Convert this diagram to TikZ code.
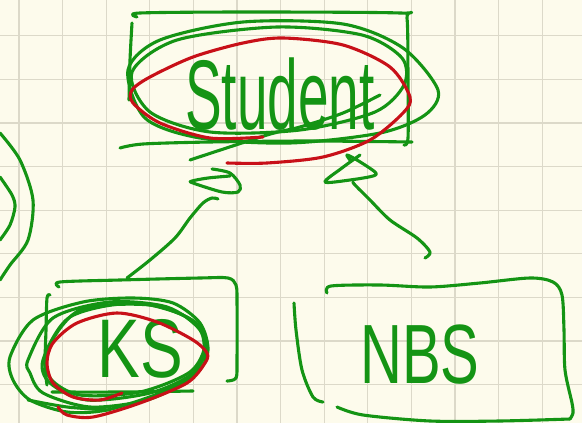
\documentclass[tikz,border=0pt]{standalone}
\usepackage{fontspec}
\newfontfamily\hand{Liberation Sans}
\definecolor{paper}{RGB}{253,251,236}
\definecolor{gridc}{RGB}{220,217,201}
\definecolor{ink}{RGB}{20,148,20}
\definecolor{redink}{RGB}{200,16,24}
\tikzset{
  pen/.style={draw=ink, line width=3.1pt, line cap=round, line join=round},
  redpen/.style={draw=redink, line width=3.1pt, line cap=round, line join=round},
  word/.style={text=ink, inner sep=0pt, anchor=base, font=\hand},
}
\begin{document}
\begin{tikzpicture}[x=1pt, y=-1pt]
% paper and grid
\fill[paper] (0,0) rectangle (582,423);
\useasboundingbox (0,0) rectangle (582,423);
\foreach \k in {0,...,12} \draw[gridc, line width=1.2pt] ({19+43.6*\k},0) -- ({19+43.6*\k},423);
\foreach \k in {0,...,8} \draw[gridc, line width=1.2pt] (0,{35.8+43.6*\k}) -- (582,{35.8+43.6*\k});

% ---- Student ----
\node[word] (stu) at (280,129) {\scalebox{1}[1.8]{\fontsize{55}{60}\selectfont Student}};
% box
\draw[pen] plot[smooth] coordinates {(137,17) (140,13) (250,12) (400,13) (407,18) (408,80) (408,138) (404,145)};
\draw[pen] plot[smooth] coordinates {(132,23) (130,60) (129,100)};
\draw[pen] plot[smooth] coordinates {(120,148) (143,144) (210,142) (310,141) (412,142)};
% circling
\draw[pen] plot[smooth cycle] coordinates {(128,70) (160,40) (243,22) (343,24) (403,48) (438,90) (425,115) (380,133) (290,143) (200,138) (145,118)};
\draw[pen] plot[smooth cycle] coordinates {(132,72) (177,40) (277,27) (362,35) (402,58) (404,85) (375,112) (300,130) (210,132) (150,112)};
\draw[pen] plot[smooth] coordinates {(190,160) (267,135) (300,127) (343,113) (380,95)};
\draw[redpen] plot[smooth] coordinates {(263,137) (210,138) (160,123) (133,103) (132,90) (150,77) (193,57) (243,43) (283,38) (343,45) (390,67) (410,97) (403,113) (370,140) (323,157) (267,163) (227,163)};

% ---- KS ----
\node[word] (ks) at (140,377) {\scalebox{1}[1.3]{\fontsize{64}{70}\selectfont KS}};
\draw[pen] plot[smooth] coordinates {(59,287) (60,282) (120,280) (200,278) (228,278) (236,285) (237,300) (237,360) (236,378) (227,381)};
\draw[pen] plot[smooth] coordinates {(50,295) (47,298) (46,330) (45,365) (47,385)};
\draw[pen] plot[smooth] coordinates {(52,392) (120,392) (193,391)};
\draw[pen] plot[smooth] coordinates {(28,400) (67,407) (110,410)};
\draw[pen] plot[smooth cycle] coordinates {(10,357) (33,320) (83,302) (133,298) (173,303) (200,323) (208,350) (197,373) (160,393) (107,410) (67,412) (30,400) (13,380)};
\draw[pen] plot[smooth cycle] coordinates {(28,360) (53,318) (110,302) (167,307) (200,330) (203,357) (187,380) (147,400) (90,407) (43,393) (30,373)};
\draw[pen] plot[smooth cycle] coordinates {(43,360) (70,317) (133,303) (187,317) (207,343) (193,373) (150,393) (87,400) (50,383)};
\draw[pen] plot[smooth cycle] coordinates {(47,350) (80,310) (150,305) (195,322) (205,345) (190,372) (140,392) (80,395) (50,378)};
\draw[redpen] plot[smooth] coordinates {(58,407) (67,415) (93,417) (140,403) (187,383) (205,363) (207,353) (193,340) (157,322) (117,313) (77,323) (53,343) (47,363) (53,383) (73,397) (100,400) (122,393)};

% ---- NBS ----
\node[word] (nbs) at (420,383) {\scalebox{1}[1.45]{\fontsize{58}{64}\selectfont NBS}};
\draw[pen] plot[smooth] coordinates {(294,303) (296,330) (302,370) (313,397) (323,402)};
\draw[pen] plot[smooth] coordinates {(327,293) (331,286) (380,285) (430,287) (480,283) (530,278) (553,282) (562,295) (564,330) (565,370) (572,403) (573,413) (570,419)};
\draw[pen] plot[smooth] coordinates {(337,407) (363,415) (430,421) (500,421) (570,419)};

% ---- arrows ----
\coordinate (ksTop) at (127,278);
\coordinate (stuL) at (218,199);
\coordinate (nbsTop) at (425,258);
\coordinate (stuR) at (353,182);
\draw[pen] plot[smooth] coordinates {(ksTop) (150,260) (175,238) (190,218) (203,203) (212,198) (stuL)};
\draw[pen] plot[smooth] coordinates {(212,169) (230,173) (240,185) (238,192) (222,192) (193,183) (192,181) (208,178) (230,176)};
\draw[pen] plot[smooth] coordinates {(nbsTop) (430,252) (417,238) (390,220) (370,200) (355,185) (stuR)};
\draw[pen] plot[smooth] coordinates {(360,155) (342,168) (325,182) (350,180) (373,176) (375,172) (357,160) (347,155) (350,160)};

% ---- arcs at the left edge ----
\draw[pen] plot[smooth] coordinates {(0,133) (20,160) (33,200) (28,240) (10,265) (0,280)};
\draw[pen] plot[smooth] coordinates {(0,177) (12,195) (15,207) (10,225) (0,240)};
\end{tikzpicture}
\end{document}
